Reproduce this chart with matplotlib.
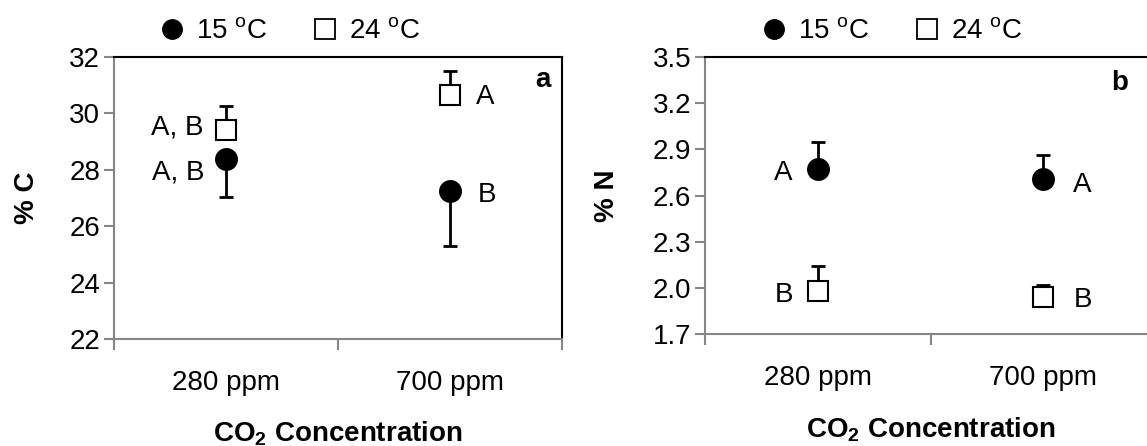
import matplotlib.pyplot as plt
from matplotlib.lines import Line2D

plt.rcParams['font.family'] = ['Liberation Sans', 'DejaVu Sans']
plt.rcParams['mathtext.fontset'] = 'custom'
plt.rcParams['mathtext.rm'] = 'Liberation Sans'
plt.rcParams['mathtext.bf'] = 'Liberation Sans:bold'

categories = ['280 ppm', '700 ppm']
temps = ['15 $^\\mathregular{o}$C', '24 $^\\mathregular{o}$C']

# % C
c_15 = [28.37, 27.26]
c_15_err = [1.32, 1.95]   # drawn downward
c_24 = [29.41, 30.65]
c_24_err = [0.85, 0.86]   # drawn upward
c_15_letters = ['A, B', 'B']
c_24_letters = ['A, B', 'A']

# % N
n_15 = [2.77, 2.71]
n_15_err = [0.18, 0.15]
n_24 = [1.98, 1.94]
n_24_err = [0.16, 0.08]
n_15_letters = ['A', 'A']
n_24_letters = ['B', 'B']

c_ticks = [22, 24, 26, 28, 30, 32]
n_ticks = [1.7, 2.0, 2.3, 2.6, 2.9, 3.2, 3.5]

GRAY = '#868686'
FS = 20


def style_axes(ax, yticks, fmt):
  ax.set_xlim(0, 2)
  ax.set_ylim(yticks[0], yticks[-1])
  ax.set_yticks(yticks)
  ax.set_yticklabels([fmt % t for t in yticks])
  ax.set_xticks([0, 1, 2])
  ax.set_xticklabels(['', '', ''])
  ax.set_xticks([0.5, 1.5], minor=True)
  ax.set_xticklabels(categories, minor=True)
  ax.tick_params(axis='x', which='major', direction='out', length=8, width=1.5, color=GRAY)
  ax.tick_params(axis='x', which='minor', length=0, pad=22, labelsize=FS)
  ax.tick_params(axis='y', direction='out', length=7, width=1.5, color=GRAY, labelsize=FS,
                 right=False, pad=3)
  for s in ['left', 'bottom']:
    ax.spines[s].set_color(GRAY)
    ax.spines[s].set_linewidth(1.5)
  for s in ['top', 'right']:
    ax.spines[s].set_color('black')
    ax.spines[s].set_linewidth(1.5)


def draw_series(ax, vals, errs, up, marker, face):
  x = [0.5, 1.5]
  if up:
    yerr = [[0] * len(errs), errs]
  else:
    yerr = [errs, [0] * len(errs)]
  ax.errorbar(x, vals, yerr=yerr, fmt='none', ecolor='black', elinewidth=2,
              capsize=5, capthick=2, zorder=2)
  ax.plot(x, vals, ls='none', marker=marker, ms=15, mfc=face, mec='black',
          mew=1.5, zorder=3)


def label_points(ax, vals, letters, offsets):
  for i, (v, t) in enumerate(zip(vals, letters)):
    dx, dy = offsets[i]
    ax.annotate(t, (0.5 + i, v), xytext=(dx, dy), textcoords='offset pixels',
                ha='left' if dx > 0 else 'right', va='center', fontsize=FS)


def add_legend(ax, x, y):
  h = [Line2D([], [], ls='none', marker='o', ms=14, mfc='black', mec='black'),
       Line2D([], [], ls='none', marker='s', ms=14, mfc='white', mec='black', mew=1.3)]
  ax.legend(h, temps, loc='center left', bbox_to_anchor=(x, y),
            bbox_transform=ax.figure.transFigure, ncol=2, frameon=False,
            handlelength=1.0, handletextpad=0.35, columnspacing=1.6,
            borderpad=0, borderaxespad=0, fontsize=FS)


def main():
  fig = plt.figure(figsize=(11.47, 4.46), dpi=100)
  ax1 = fig.add_axes([0.0994, 0.2399, 0.3906, 0.6323])
  ax2 = fig.add_axes([0.6147, 0.2511, 0.3932, 0.6211])

  # panel a
  style_axes(ax1, c_ticks, '%d')
  draw_series(ax1, c_15, c_15_err, False, 'o', 'black')
  draw_series(ax1, c_24, c_24_err, True, 's', 'white')
  label_points(ax1, c_24, c_24_letters, [(-23, 3), (26, -2)])
  label_points(ax1, c_15, c_15_letters, [(-22, -13), (28, -4)])
  ax1.set_ylabel('% C', fontsize=FS, fontweight='bold', va='center')
  ax1.yaxis.set_label_coords(-0.195, 0.5)
  ax1.set_xlabel('CO$_\\mathbf{2}$ Concentration', fontsize=FS, fontweight='bold', va='center')
  ax1.xaxis.set_label_coords(0.5, -0.335)
  ax1.text(0.958, 0.918, 'a', transform=ax1.transAxes, ha='center', va='center',
           fontsize=FS, fontweight='bold')
  add_legend(ax1, 0.1378, 0.928)

  # panel b
  style_axes(ax2, n_ticks, '%.1f')
  draw_series(ax2, n_15, n_15_err, True, 'o', 'black')
  draw_series(ax2, n_24, n_24_err, True, 's', 'white')
  label_points(ax2, n_15, n_15_letters, [(-25, -4), (30, -6)])
  label_points(ax2, n_24, n_24_letters, [(-25, -4), (30, -3)])
  ax2.set_ylabel('% N', fontsize=FS, fontweight='bold', va='center')
  ax2.yaxis.set_label_coords(-0.218, 0.5)
  ax2.set_xlabel('CO$_\\mathbf{2}$ Concentration', fontsize=FS, fontweight='bold', va='center')
  ax2.xaxis.set_label_coords(0.5, -0.345)
  ax2.text(0.920, 0.906, 'b', transform=ax2.transAxes, ha='center', va='center',
           fontsize=FS, fontweight='bold')
  add_legend(ax2, 0.6626, 0.928)

  fig.savefig('out.png', dpi=100)


if __name__ == '__main__':
  main()
